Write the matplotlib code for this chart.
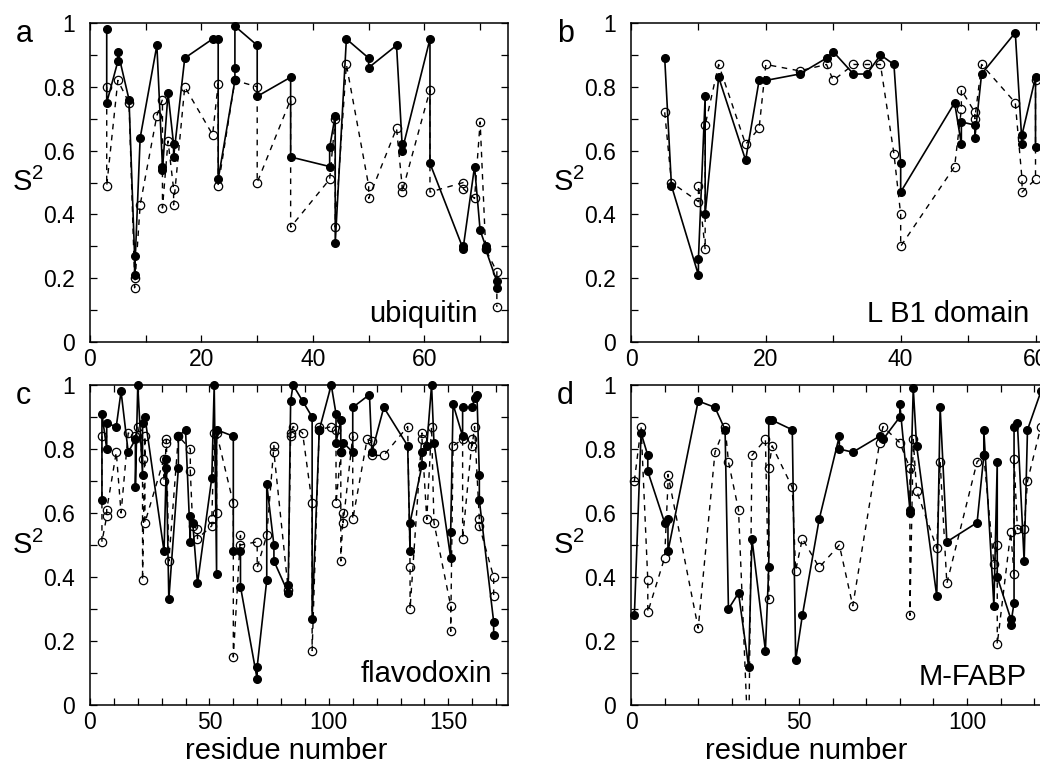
import numpy as np
import matplotlib
matplotlib.use("Agg")
import matplotlib.pyplot as plt
from matplotlib.ticker import MultipleLocator, FuncFormatter

plt.rcParams['font.family'] = ['Liberation Sans', 'DejaVu Sans']
plt.rcParams['mathtext.default'] = 'regular'

# ---- data (residue number, S2) ----
# a: ubiquitin
ubq_fill_x = [3, 3, 5, 5, 7, 8, 8, 9, 12, 13, 13, 14, 15, 15, 17, 22, 23, 23, 26, 26, 26, 30, 30, 36, 36,
              43, 43, 44, 44, 46, 50, 50, 55, 56, 56, 61, 61, 67, 67, 69, 70, 71, 71, 73, 73]
ubq_fill_y = [0.98, 0.75, 0.88, 0.91, 0.76, 0.27, 0.21, 0.64, 0.93, 0.55, 0.54, 0.78, 0.62, 0.58, 0.89,
              0.95, 0.95, 0.51, 0.82, 0.86, 0.99, 0.93, 0.77, 0.83, 0.58, 0.55, 0.61, 0.71, 0.31, 0.95,
              0.89, 0.86, 0.93, 0.62, 0.60, 0.95, 0.56, 0.29, 0.30, 0.55, 0.35, 0.30, 0.29, 0.19, 0.17]
ubq_open_x = [3, 3, 5, 7, 8, 8, 9, 12, 13, 13, 14, 15, 15, 17, 22, 23, 23, 26, 30, 30, 36, 36, 43, 44, 44,
              46, 50, 50, 55, 56, 56, 61, 61, 67, 67, 69, 70, 71, 73, 73]
ubq_open_y = [0.80, 0.49, 0.82, 0.75, 0.20, 0.17, 0.43, 0.71, 0.76, 0.42, 0.63, 0.48, 0.43, 0.80, 0.65,
              0.81, 0.49, 0.82, 0.80, 0.50, 0.76, 0.36, 0.51, 0.70, 0.36, 0.87, 0.49, 0.45, 0.67, 0.49,
              0.47, 0.79, 0.47, 0.50, 0.48, 0.45, 0.69, 0.29, 0.22, 0.11]

# b: L B1 domain
lb1_fill_x = [5, 6, 10, 10, 11, 11, 13, 17, 19, 20, 25, 29, 30, 33, 35, 37, 39, 40, 40, 48, 49, 49, 51, 51,
              52, 57, 58, 58, 60, 60]
lb1_fill_y = [0.89, 0.49, 0.21, 0.26, 0.77, 0.40, 0.83, 0.57, 0.82, 0.82, 0.84, 0.89, 0.91, 0.84, 0.84,
              0.90, 0.87, 0.56, 0.47, 0.75, 0.62, 0.69, 0.68, 0.64, 0.84, 0.97, 0.62, 0.65, 0.83, 0.61]
lb1_open_x = [5, 6, 10, 10, 11, 11, 13, 17, 19, 20, 25, 29, 30, 33, 35, 37, 39, 40, 40, 48, 49, 49, 51, 51,
              52, 57, 58, 58, 60, 60]
lb1_open_y = [0.72, 0.50, 0.44, 0.49, 0.29, 0.68, 0.87, 0.62, 0.67, 0.87, 0.85, 0.87, 0.82, 0.87, 0.87,
              0.87, 0.59, 0.40, 0.30, 0.55, 0.73, 0.79, 0.72, 0.70, 0.87, 0.75, 0.51, 0.47, 0.51, 0.82]

# c: flavodoxin
fld_fill_x = [5, 5, 7, 7, 11, 13, 16, 19, 19, 20, 22, 22, 23, 31, 32, 32, 33, 37, 37, 40, 42, 42, 43, 45,
              51, 52, 53, 53, 60, 60, 63, 63, 70, 70, 74, 74, 77, 77, 83, 83, 84, 85, 89, 93, 93, 96,
              101, 103, 103, 105, 105, 106, 110, 110, 117, 118, 123, 133, 134, 134, 139, 139, 141, 143,
              144, 151, 151, 152, 156, 156, 160, 161, 162, 163, 163, 169, 169]
fld_fill_y = [0.64, 0.91, 0.80, 0.88, 0.87, 0.98, 0.79, 0.83, 0.68, 1.00, 0.72, 0.88, 0.90, 0.48, 0.77,
              0.74, 0.33, 0.74, 0.84, 0.86, 0.51, 0.59, 0.57, 0.38, 0.71, 1.00, 0.41, 0.86, 0.84, 0.48,
              0.48, 0.37, 0.08, 0.12, 0.39, 0.69, 0.50, 0.45, 0.35, 0.375, 0.95, 1.00, 0.95, 0.90, 0.27,
              0.86, 1.00, 0.91, 0.82, 0.89, 0.79, 0.82, 0.79, 0.93, 0.97, 0.79, 0.93, 0.81, 0.48, 0.57,
              0.75, 0.79, 0.81, 1.00, 0.82, 0.46, 0.54, 0.94, 0.84, 0.93, 0.93, 0.96, 0.97, 0.72, 0.64,
              0.26, 0.22]
fld_open_x = [5, 5, 7, 7, 11, 13, 16, 19, 20, 22, 22, 23, 23, 31, 31, 32, 32, 33, 37, 42, 42, 43, 45, 45,
              51, 51, 52, 53, 53, 60, 60, 63, 63, 70, 70, 74, 77, 77, 83, 84, 84, 85, 89, 93, 93, 96, 96,
              101, 103, 103, 105, 105, 106, 106, 110, 110, 116, 118, 118, 123, 133, 134, 134, 139, 139,
              141, 143, 144, 151, 151, 152, 156, 156, 160, 160, 161, 163, 163, 169, 169]
fld_open_y = [0.84, 0.51, 0.59, 0.61, 0.79, 0.60, 0.85, 0.84, 0.87, 0.77, 0.39, 0.84, 0.57, 0.77, 0.70,
              0.83, 0.82, 0.45, 0.84, 0.80, 0.73, 0.56, 0.55, 0.52, 0.56, 0.58, 0.85, 0.60, 0.85, 0.63,
              0.15, 0.53, 0.50, 0.51, 0.43, 0.53, 0.81, 0.79, 0.36, 0.85, 0.84, 0.87, 0.85, 0.63, 0.17,
              0.87, 0.86, 0.87, 0.86, 0.63, 0.79, 0.45, 0.60, 0.57, 0.84, 0.58, 0.83, 0.825, 0.78, 0.78,
              0.87, 0.43, 0.30, 0.85, 0.83, 0.58, 0.87, 0.57, 0.31, 0.23, 0.81, 0.83, 0.52, 0.83, 0.81,
              0.87, 0.58, 0.56, 0.40, 0.34]

# d: M-FABP
fabp_fill_x = [1, 3, 5, 5, 10, 11, 11, 20, 25, 28, 29, 32, 35, 36, 40, 41, 41, 42, 48, 49, 51, 56, 62, 62,
               66, 74, 75, 80, 80, 83, 83, 84, 85, 91, 92, 94, 103, 105, 105, 108, 109, 109, 113, 113,
               114, 114, 115, 117, 118, 122]
fabp_fill_y = [0.28, 0.85, 0.78, 0.73, 0.57, 0.58, 0.48, 0.95, 0.93, 0.86, 0.30, 0.35, 0.12, 0.52, 0.17,
               0.43, 0.89, 0.89, 0.86, 0.14, 0.28, 0.58, 0.84, 0.80, 0.79, 0.84, 0.83, 0.90, 0.94, 0.61,
               0.60, 0.99, 0.81, 0.34, 0.93, 0.51, 0.57, 0.78, 0.86, 0.31, 0.76, 0.40, 0.27, 0.25, 0.32,
               0.87, 0.88, 0.45, 0.86, 0.98]
fabp_open_x = [1, 3, 5, 5, 10, 11, 11, 20, 25, 28, 29, 32, 35, 36, 40, 41, 41, 42, 48, 49, 51, 56, 62, 66,
               74, 75, 80, 83, 83, 84, 85, 91, 92, 94, 103, 105, 108, 109, 109, 113, 114, 114, 115, 117,
               118, 122]
fabp_open_y = [0.70, 0.87, 0.39, 0.29, 0.46, 0.69, 0.72, 0.24, 0.79, 0.87, 0.76, 0.61, -0.15, 0.78, 0.83,
               0.33, 0.74, 0.81, 0.68, 0.42, 0.52, 0.43, 0.50, 0.31, 0.82, 0.87, 0.82, 0.74, 0.28, 0.83,
               0.67, 0.49, 0.76, 0.38, 0.76, 0.78, 0.44, 0.50, 0.19, 0.54, 0.41, 0.77, 0.55, 0.55, 0.70,
               0.87]

panel_letters = ['a', 'b', 'c', 'd']
protein_names = ['ubiquitin', 'L B1 domain', 'flavodoxin', 'M-FABP']
x_limits = [75, 62, 175, 124.4]
x_major = [20, 20, 50, 50]

# ---- layout (pixels of a 1040 x 764 picture) ----
fig = plt.figure(figsize=(10.4, 7.64), dpi=100)
W = 418 / 1040.
positions = [[90 / 1040., 1 - 342 / 764., W, 319 / 764.],
             [631 / 1040., 1 - 342 / 764., W, 319 / 764.],
             [90 / 1040., 1 - 705 / 764., W, 320 / 764.],
             [631 / 1040., 1 - 705 / 764., W, 320 / 764.]]
name_pos = [(0.928, 0.063), (0.952, 0.063), (0.962, 0.073), (0.947, 0.0625)]
xlabel_x = [None, None, 0.47, 0.42]

fills = [(ubq_fill_x, ubq_fill_y), (lb1_fill_x, lb1_fill_y), (fld_fill_x, fld_fill_y), (fabp_fill_x, fabp_fill_y)]
opens = [(ubq_open_x, ubq_open_y), (lb1_open_x, lb1_open_y), (fld_open_x, fld_open_y), (fabp_open_x, fabp_open_y)]

fmt = FuncFormatter(lambda v, p: '%g' % round(v, 2))

for i in range(4):
    ax = fig.add_axes(positions[i])
    fx, fy = np.array(fills[i][0]), np.array(fills[i][1])
    ox, oy = np.array(opens[i][0]), np.array(opens[i][1])

    # dashed line with open circles, solid line with filled circles
    ax.plot(ox, oy, color='black', lw=1.0, ls=(0, (4, 4)))
    ax.plot(fx, fy, color='black', lw=1.2)
    keep = (oy >= 0) & (oy <= 1)
    ax.plot(ox[keep], oy[keep], 'o', ms=6, mfc='none', mec='black', mew=0.9, clip_on=False)
    ax.plot(fx, fy, 'o', ms=5.5, color='black', clip_on=False)

    ax.set_xlim(0, x_limits[i])
    ax.set_ylim(0, 1)
    ax.xaxis.set_major_locator(MultipleLocator(x_major[i]))
    ax.xaxis.set_minor_locator(MultipleLocator(10))
    ax.yaxis.set_major_locator(MultipleLocator(0.2))
    ax.yaxis.set_minor_locator(MultipleLocator(0.1))
    ax.yaxis.set_major_formatter(fmt)
    ax.tick_params(which='both', direction='in', top=True, right=True, length=5, width=0.9)
    ax.tick_params(axis='x', labelsize=16.5, pad=4.5)
    ax.tick_params(axis='y', labelsize=16.5, pad=11)
    for s in ax.spines.values():
        s.set_linewidth(1.1)

    ax.set_ylabel('S$^2$', fontsize=21, rotation=0, va='center', ha='center')
    ax.yaxis.set_label_coords(-0.148, 0.5)
    ax.text(-0.177, 0.94, panel_letters[i], transform=ax.transAxes, fontsize=22, ha='left', va='baseline')
    ax.text(name_pos[i][0], name_pos[i][1], protein_names[i], transform=ax.transAxes,
            fontsize=21, ha='right', va='baseline')
    if i >= 2:
        ax.set_xlabel('residue number', fontsize=21, labelpad=0.5)
        ax.xaxis.set_label_coords(xlabel_x[i], -0.1)
        ax.xaxis.label.set_va('top')

fig.savefig('out.png', dpi=100)
